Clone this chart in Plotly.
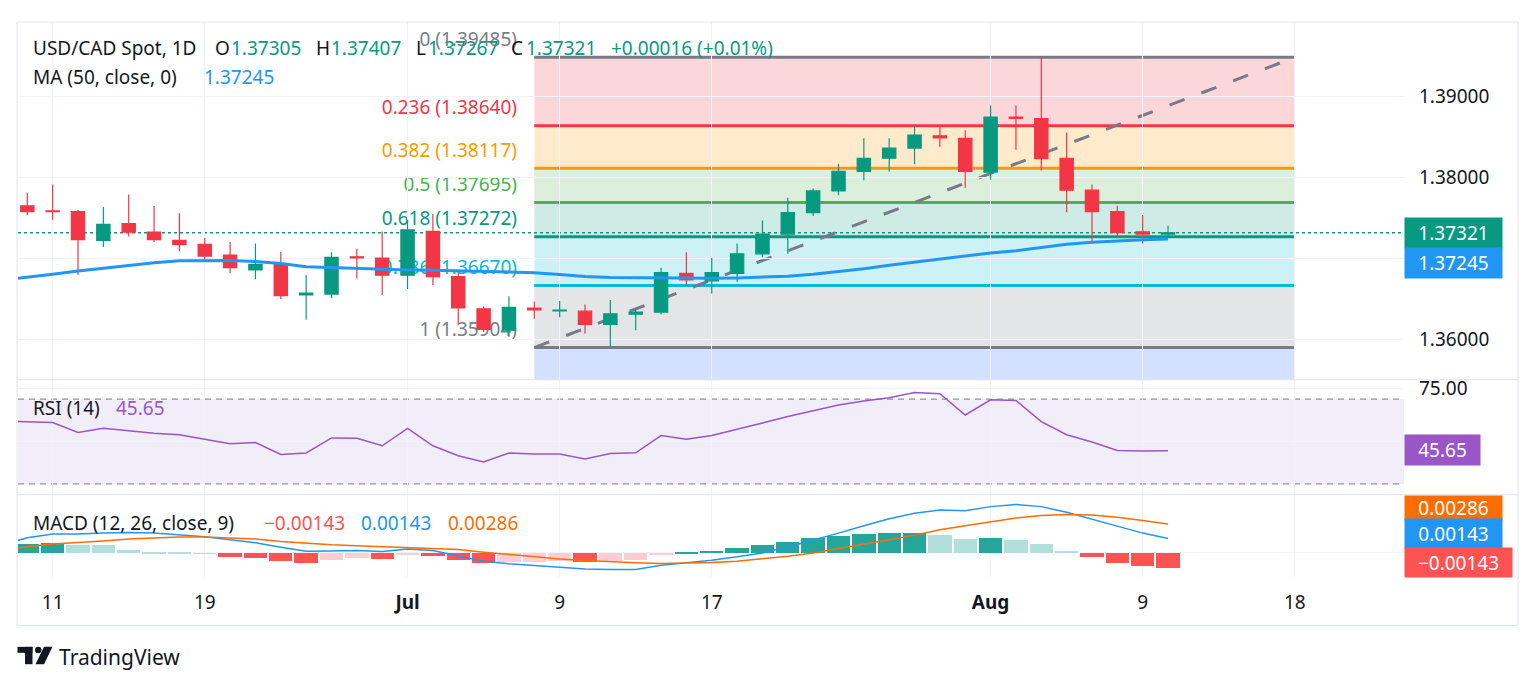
import numpy as np
import pandas as pd
import plotly.graph_objects as go
from plotly.subplots import make_subplots

# ---------------- DATA ----------------
start_date = "2024-06-10"           # first visible session
sessions = pd.bdate_range(start_date, "2024-08-23")   # calendar incl. future slots

opens = [1.37654, 1.37590, 1.37581, 1.37228, 1.37435, 1.37329, 1.37228, 1.37179, 1.37045, 1.36862,
         1.36935, 1.36553, 1.36565, 1.37024, 1.37008, 1.36797, 1.37337, 1.36780, 1.36382, 1.36118,
         1.36392, 1.36356, 1.36354, 1.36191, 1.36317, 1.36341, 1.36821, 1.36728, 1.36821, 1.37061,
         1.37305, 1.37569, 1.37837, 1.38077, 1.38240, 1.38366, 1.38516, 1.38484, 1.38069, 1.38748,
         1.38728, 1.38240, 1.37846, 1.37581, 1.37333, 1.37305]
highs = [1.37813, 1.37915, 1.37602, 1.37638, 1.37793, 1.37650, 1.37561, 1.37256, 1.37207, 1.37187,
         1.37085, 1.36801, 1.37081, 1.37122, 1.37337, 1.37480, 1.37553, 1.36862, 1.36411, 1.36537,
         1.36472, 1.36480, 1.36435, 1.36490, 1.36390, 1.36890, 1.37081, 1.37008, 1.37187, 1.37472,
         1.37752, 1.37866, 1.38171, 1.38488, 1.38488, 1.38650, 1.38626, 1.38585, 1.38890, 1.38890,
         1.39485, 1.38557, 1.37915, 1.37654, 1.37541, 1.37407]
lows = [1.37541, 1.37480, 1.36801, 1.37146, 1.37276, 1.37207, 1.37093, 1.36980, 1.36821, 1.36748,
        1.36504, 1.36248, 1.36512, 1.36756, 1.36553, 1.36626, 1.36675, 1.36179, 1.36098, 1.36037,
        1.36260, 1.36280, 1.36077, 1.35904, 1.36118, 1.36317, 1.36667, 1.36573, 1.36715, 1.37020,
        1.37061, 1.37528, 1.37785, 1.37967, 1.38077, 1.38167, 1.38382, 1.37874, 1.37976, 1.38346,
        1.38089, 1.37573, 1.37207, 1.37276, 1.37187, 1.37267]
closes = [1.37581, 1.37582, 1.37236, 1.37423, 1.37329, 1.37236, 1.37175, 1.37033, 1.36890, 1.36931,
          1.36545, 1.36577, 1.37016, 1.37012, 1.36797, 1.37358, 1.36780, 1.36394, 1.36130, 1.36402,
          1.36370, 1.36366, 1.36191, 1.36321, 1.36341, 1.36829, 1.36740, 1.36829, 1.37061, 1.37305,
          1.37569, 1.37837, 1.38077, 1.38240, 1.38366, 1.38524, 1.38490, 1.38077, 1.38748, 1.38732,
          1.38236, 1.37846, 1.37581, 1.37325, 1.37305, 1.37321]

# indicator series start one session earlier (Jun 7) so lines reach the left edge
ma50 = [1.36735, 1.36768, 1.36810, 1.36850, 1.36885, 1.36919, 1.36950, 1.36976, 1.36980, 1.36980, 1.36967,
        1.36943, 1.36902, 1.36890, 1.36882, 1.36870, 1.36862, 1.36858, 1.36850, 1.36846, 1.36837,
        1.36829, 1.36805, 1.36780, 1.36768, 1.36764, 1.36764, 1.36760, 1.36760, 1.36764, 1.36772,
        1.36785, 1.36809, 1.36841, 1.36878, 1.36919, 1.36959, 1.37000, 1.37033, 1.37070, 1.37100,
        1.37140, 1.37180, 1.37205, 1.37222, 1.37235, 1.37245]
rsi = [59.6, 59.3, 59.0, 54.3, 56.3, 55.1, 53.9, 53.2, 51.2, 48.9, 49.5,
       43.9, 44.6, 51.7, 51.5, 48.0, 56.2, 48.0, 43.3, 40.4, 44.6,
       44.1, 44.1, 41.8, 44.4, 44.7, 52.8, 51.1, 52.8, 55.6, 58.7,
       61.8, 64.6, 67.2, 69.1, 70.6, 73.1, 72.5, 62.5, 69.7, 69.4,
       59.4, 53.2, 49.8, 45.8, 45.5, 45.65]
macd_line = [0.00080, 0.00150, 0.00186, 0.00186, 0.00196, 0.00203, 0.00196, 0.00180, 0.00160, 0.00131, 0.00101,
             0.00056, 0.00016, 0.00020, 0.00023, 0.00013, 0.00039, 0.00023, -0.00026, -0.00082, -0.00108,
             -0.00124, -0.00141, -0.00160, -0.00165, -0.00163, -0.00121, -0.00098, -0.00072, -0.00039, 0.00000,
             0.00059, 0.00124, 0.00196, 0.00268, 0.00337, 0.00392, 0.00425, 0.00418, 0.00458, 0.00480,
             0.00458, 0.00402, 0.00337, 0.00265, 0.00196, 0.00143]
signal_line = [0.00020, 0.00060, 0.00088, 0.00101, 0.00118, 0.00137, 0.00150, 0.00157, 0.00157, 0.00147, 0.00137,
               0.00114, 0.00095, 0.00082, 0.00072, 0.00062, 0.00059, 0.00046, 0.00033, 0.00007, -0.00016,
               -0.00042, -0.00059, -0.00075, -0.00088, -0.00098, -0.00105, -0.00101, -0.00095, -0.00082, -0.00059,
               -0.00033, 0.00000, 0.00042, 0.00088, 0.00131, 0.00176, 0.00229, 0.00268, 0.00310, 0.00346,
               0.00369, 0.00379, 0.00376, 0.00353, 0.00320, 0.00286]
macd_hist = [0.00080, 0.00092, 0.00098, 0.00082, 0.00078, 0.00036, 0.00016, 0.00003, 0.00001, -0.00036, -0.00052,
             -0.00078, -0.00098, -0.00072, -0.00050, -0.00058, -0.00016, -0.00029, -0.00065, -0.00098, -0.00089,
             -0.00087, -0.00081, -0.00083, -0.00076, -0.00068, -0.00017, 0.00004, 0.00026, 0.00056, 0.00085,
             0.00114, 0.00147, 0.00173, 0.00193, 0.00198, 0.00200, 0.00183, 0.00144, 0.00146, 0.00134,
             0.00088, 0.00026, -0.00039, -0.00095, -0.00127, -0.00143]

fib_ratios = ["0", "0.236", "0.382", "0.5", "0.618", "0.786", "1"]
fib_prices = [1.39485, 1.38640, 1.38117, 1.37695, 1.37272, 1.36670, 1.35904]
fib_ext_price = 1.33691           # 1.618 level (below the visible pane)
fib_start, fib_end = "2024-07-08", "2024-08-19"

tick_dates = ["2024-06-11", "2024-06-19", "2024-07-01", "2024-07-09", "2024-07-17",
              "2024-08-01", "2024-08-09", "2024-08-19"]
tick_labels = ["11", "19", "<b>Jul</b>", "9", "17", "<b>Aug</b>", "9", "18"]

# ---------------- STYLE ----------------
FONT = "Noto Sans"
TXT = "#131722"
UP, DOWN = "#089981", "#F23645"
MA_C = "#2196F3"
RSI_C = "#9A55C6"
MACD_C, SIG_C = "#2196F3", "#FF6D00"
GRID = "#F0F3FA"
BORDER = "#E0E3EB"
FS = 19

fib_line_colors = ["#787B86", "#F23645", "#FF9800", "#4CAF50", "#089981", "#00BCD4", "#787B86"]
fib_fill_rgb = [(242, 54, 69), (255, 152, 0), (76, 175, 80), (8, 153, 129), (0, 188, 212),
                (120, 123, 134), (41, 98, 255)]

OFF = 8                         # page body margin of the html page
W, H = 1536 - OFF, 688 - OFF
# target screen positions (px)
L_PX, R_PX, T_PX, B_PX = 18, 1404, 17, 577
PW, PH = R_PX - L_PX, B_PX - T_PX

pos = {d.strftime("%Y-%m-%d"): i for i, d in enumerate(sessions)}
n = len(opens)
xi = np.arange(n)
xe = np.arange(-1, n)
BAR0, BARW = 27.3, 25.35      # screen pixel of first bar, pixel spacing


def x_of_px(p):
    return (p - BAR0) / BARW


def px(p):
    return (p - L_PX) / PW


def py(p):
    return (B_PX - p) / PH


X0, X1 = x_of_px(L_PX), x_of_px(R_PX)
P_REF_Y, P_SCALE = 92.3, 8180.0
Y1_TOP = 1.39 + (P_REF_Y - T_PX) / P_SCALE
Y1_BOT = 1.39 - (378 - P_REF_Y) / P_SCALE
RSI_TOP = 50 + (440.3 - 378) / 2.14
RSI_BOT = 50 - (494 - 440.3) / 2.14
M_TOP = (552.7 - 494) / 10200
M_BOT = -(577 - 552.7) / 10200

fig = make_subplots(rows=3, cols=1, shared_xaxes=True, vertical_spacing=0,
                    row_heights=[361, 116, 83])

fig.add_trace(go.Candlestick(
    x=xi, open=opens, high=highs, low=lows, close=closes,
    increasing=dict(line=dict(color=UP, width=1.2), fillcolor=UP),
    decreasing=dict(line=dict(color=DOWN, width=1.2), fillcolor=DOWN),
    whiskerwidth=0, hoverinfo="skip", showlegend=False), row=1, col=1)

fig.add_trace(go.Scatter(x=xe, y=ma50, mode="lines", line=dict(color=MA_C, width=3),
                         hoverinfo="skip", showlegend=False), row=1, col=1)

fig.add_trace(go.Scatter(x=xe, y=rsi, mode="lines", line=dict(color=RSI_C, width=1.5),
                         hoverinfo="skip", showlegend=False), row=2, col=1)

hist_colors = []
for k, v in enumerate(macd_hist):
    prev = macd_hist[k - 1] if k > 0 else v - 1e-5
    if v >= 0:
        hist_colors.append("#26A69A" if v > prev else "#B2DFDB")
    else:
        hist_colors.append("#FFCDD2" if v > prev else "#FF5252")
fig.add_trace(go.Bar(x=xe, y=macd_hist, marker=dict(color=hist_colors, line=dict(width=0)),
                     width=0.92, hoverinfo="skip", showlegend=False), row=3, col=1)
fig.add_trace(go.Scatter(x=xe, y=macd_line, mode="lines", line=dict(color=MACD_C, width=1.5),
                         hoverinfo="skip", showlegend=False), row=3, col=1)
fig.add_trace(go.Scatter(x=xe, y=signal_line, mode="lines", line=dict(color=SIG_C, width=1.5),
                         hoverinfo="skip", showlegend=False), row=3, col=1)

shapes = []
fs, fe = pos[fib_start], pos[fib_end]
levels = fib_prices + [fib_ext_price]
for k in range(len(levels) - 1):
    r, g, b = fib_fill_rgb[k]
    shapes.append(dict(type="rect", xref="x", yref="y", x0=fs, x1=fe, y0=levels[k + 1], y1=levels[k],
                       fillcolor=f"rgba({r},{g},{b},0.2)", line=dict(width=0), layer="below"))
lbl_right = x_of_px(520)
for k, (ratio, price) in enumerate(zip(fib_ratios, fib_prices)):
    shapes.append(dict(type="line", xref="x", yref="y", x0=fs, x1=fe, y0=price, y1=price,
                       line=dict(color=fib_line_colors[k], width=3), layer="below"))
    shapes.append(dict(type="rect", xref="x", yref="y", x0=lbl_right - 12, x1=lbl_right,
                       y0=price + 6 / P_SCALE, y1=price + 29 / P_SCALE,
                       line=dict(width=0), fillcolor="rgba(0,0,0,0)", layer="below",
                       label=dict(text=f"{ratio} ({price:.5f})", textposition="middle right",
                                  padding=0, font=dict(family=FONT, size=FS, color=fib_line_colors[k]))))
shapes.append(dict(type="line", xref="x", yref="y", x0=fs, x1=fe, y0=fib_prices[-1], y1=fib_prices[0],
                   line=dict(color="#787B86", width=3, dash="16px,18px"), layer="below"))
shapes.append(dict(type="line", xref="paper", yref="y", x0=0, x1=1, y0=closes[-1], y1=closes[-1],
                   line=dict(color=UP, width=1.5, dash="dot"), layer="below"))
shapes.append(dict(type="rect", xref="paper", yref="y2", x0=0, x1=1, y0=30, y1=70,
                   fillcolor="rgba(126,87,194,0.1)", line=dict(width=0), layer="below"))
for lv in (70, 50, 30):
    shapes.append(dict(type="line", xref="paper", yref="y2", x0=0, x1=1, y0=lv, y1=lv,
                       line=dict(color="#787B86", width=1, dash="6px,5px"), layer="below"))
for yy in (378, 494):
    shapes.append(dict(type="line", xref="paper", yref="paper", x0=px(17), x1=px(1518),
                       y0=py(yy), y1=py(yy), line=dict(color=BORDER, width=1)))
shapes.append(dict(type="rect", xref="paper", yref="paper", x0=px(17), x1=px(1518),
                   y0=py(626), y1=py(17), line=dict(color=BORDER, width=1)))
# TradingView logo
shapes.append(dict(type="rect", xref="paper", yref="paper", x0=px(17.5), x1=px(32.5),
                   y0=py(653.5), y1=py(647.5), fillcolor=TXT, line=dict(width=0)))
shapes.append(dict(type="rect", xref="paper", yref="paper", x0=px(25), x1=px(32.5),
                   y0=py(665), y1=py(647.5), fillcolor=TXT, line=dict(width=0)))
shapes.append(dict(type="circle", xref="paper", yref="paper", x0=px(35), x1=px(41.5),
                   y0=py(654), y1=py(647.5), fillcolor=TXT, line=dict(width=0)))
shapes.append(dict(type="path", xref="paper", yref="paper",
                   path=f"M {px(44)} {py(647.5)} L {px(52.5)} {py(647.5)} L {px(44)} {py(665)} "
                        f"L {px(35.5)} {py(665)} Z", fillcolor=TXT, line=dict(width=0)))

ann = []


def txt(x, y, s, color=TXT, size=FS, **kw):
    ann.append(dict(xref="paper", yref="paper", x=px(x), y=py(y), text=s, showarrow=False,
                    xanchor="left", yanchor="middle", borderpad=0,
                    font=dict(family=FONT, size=size, color=color), **kw))


txt(32, 43.5, "USD/CAD Spot, 1D")
for lab, xl, val, xv in (("O", 214, opens[-1], 230), ("H", 315, highs[-1], 330),
                         ("L", 415, lows[-1], 427), ("C", 510, closes[-1], 525)):
    txt(xl, 43.5, lab)
    txt(xv, 43.5, f"{val:.5f}", UP)
chg = closes[-1] - opens[-1]
txt(610, 43.5, f"+{chg:.5f} (+{chg / opens[-1] * 100:.2f}%)", UP)
txt(32, 73, "MA (50, close, 0)")
txt(203, 73, f"{ma50[-1]:.5f}", MA_C)
txt(32, 406, "RSI (14)")
txt(115, 406, f"{rsi[-1]:.2f}", RSI_C)
txt(32, 522.7, "MACD (12, 26, close, 9)")
txt(263, 522.7, f"\u2212{abs(macd_hist[-1]):.5f}", "#FF5252")
txt(360, 522.7, f"{macd_line[-1]:.5f}", MACD_C)
txt(447, 522.7, f"{signal_line[-1]:.5f}", SIG_C)
txt(58, 658, "TradingView", size=21)


def box(y_top, y_bot, w, s, bg):
    ann.append(dict(xref="paper", yref="paper", x=px(R_PX), y=py((y_top + y_bot) / 2), text=s,
                    showarrow=False, xanchor="left", yanchor="middle", width=w, height=y_bot - y_top,
                    bgcolor=bg, borderpad=0, align="center",
                    font=dict(family=FONT, size=FS, color="white")))


box(215, 245, 97, f"{closes[-1]:.5f}", UP)
box(245, 275, 97, f"{ma50[-1]:.5f}", MA_C)
box(434, 464, 75, f"{rsi[-1]:.2f}", RSI_C)
box(495, 519, 97, f"{signal_line[-1]:.5f}", "#FF6D00")
box(519, 548, 97, f"{macd_line[-1]:.5f}", MACD_C)
box(548, 577, 107, f"\u2212{abs(macd_hist[-1]):.5f}", "#FF5252")

tick_pos = [pos[d] for d in tick_dates]
xcommon = dict(range=[X0, X1], showgrid=True, gridcolor=GRID, gridwidth=1, tickvals=tick_pos,
               zeroline=False, showline=False, ticks="", rangeslider=dict(visible=False), fixedrange=True)
fig.update_layout(
    xaxis=dict(**xcommon, showticklabels=False),
    xaxis2=dict(**xcommon, showticklabels=False),
    xaxis3=dict(**xcommon, showticklabels=True, ticktext=tick_labels,
                tickfont=dict(family=FONT, size=FS, color=TXT), ticklabelstandoff=12),
    yaxis=dict(side="right", range=[Y1_BOT, Y1_TOP], tickvals=[1.36, 1.37, 1.38, 1.39],
               ticktext=["1.36000", "", "1.38000", "1.39000"], showgrid=True, gridcolor=GRID,
               zeroline=False, ticks="", ticklabelstandoff=14,
               tickfont=dict(family=FONT, size=FS, color=TXT)),
    yaxis2=dict(side="right", range=[RSI_BOT, RSI_TOP], tickvals=[50, 75], ticktext=["", "75.00"],
                showgrid=True, gridcolor=GRID, zeroline=False, ticks="", ticklabelstandoff=14,
                tickfont=dict(family=FONT, size=FS, color=TXT)),
    yaxis3=dict(side="right", range=[M_BOT, M_TOP], tickvals=[0], ticktext=[""],
                showgrid=True, gridcolor=GRID, zeroline=False, ticks="",
                tickfont=dict(family=FONT, size=FS, color=TXT)),
    width=W, height=H,
    margin=dict(l=L_PX - OFF, r=W - (R_PX - OFF), t=T_PX - OFF, b=H - (B_PX - OFF)),
    paper_bgcolor="white", plot_bgcolor="white", boxgap=0.25, bargap=0,
    showlegend=False, hovermode=False, shapes=shapes, annotations=ann,
    font=dict(family=FONT, size=FS, color=TXT),
)

fig.write_html("out.html")
